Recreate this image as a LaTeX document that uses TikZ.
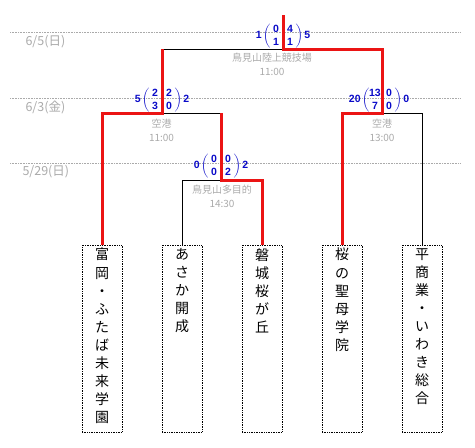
\documentclass[tikz,border=0pt]{standalone}
\usepackage{fontspec}
\setmainfont{Liberation Sans}
\newfontfamily\jpfont{Noto Sans CJK JP}
\usetikzlibrary{positioning}

\definecolor{winred}{RGB}{235,20,20}
\definecolor{scoreblue}{RGB}{10,10,200}
\definecolor{labelgray}{RGB}{170,170,170}

% score: outer left, top-left, bottom-left, top-right, bottom-right, outer right
\newcommand{\scoremat}[6]{\llap{#1\hspace{1.5pt}}$\left(\mbox{\renewcommand{\arraystretch}{1.05}%
  \begin{tabular}{@{}c@{\hspace{3pt}}c@{}}\makebox[11pt]{#2}&\makebox[11pt]{#4}\\
  \makebox[11pt]{#3}&\makebox[11pt]{#5}\end{tabular}}\right)$\rlap{\hspace{1.5pt}#6}}

\begin{document}
\begin{tikzpicture}[x=1pt, y=-1pt,
    win/.style={winred, line width=3pt},
    lose/.style={black, line width=0.8pt},
    dateline/.style={labelgray, densely dotted, line width=0.6pt},
    datelabel/.style={labelgray, anchor=west, font=\jpfont\fontsize{12.5}{14}\selectfont},
    venue/.style={labelgray, align=center, inner sep=0pt, font=\jpfont\fontsize{10}{14}\selectfont},
    score/.style={scoreblue, inner sep=0pt, font=\bfseries\fontsize{10.5}{12.5}\selectfont},
    teambox/.style={draw, densely dotted, line width=0.7pt, anchor=north, minimum width=40pt, minimum height=187pt, inner sep=0pt},
    teamname/.style={anchor=north, align=center, inner sep=0pt, font=\jpfont\fontsize{14}{18.1}\selectfont}]
  \useasboundingbox (0,0) rectangle (475,448);

  % round dates
  \draw[dateline] (10,32) -- (460,32);
  \draw[dateline] (10,98) -- (460,98);
  \draw[dateline] (10,163) -- (460,163);
  \node[datelabel] (d1) at (22,42) {6/5(日)};
  \node[datelabel] (d2) at (22,107) {6/3(金)};
  \node[datelabel] (d3) at (19,172) {5/29(日)};

  % match points
  \coordinate (champ) at (283,15);
  \coordinate (fin) at (283,49);
  \coordinate (sfL) at (162,113);
  \coordinate (sfR) at (382,113);
  \coordinate (qf) at (221,180);

  % teams
  \node[teambox] (t1) at (102,245) {};
  \node[teambox] (t2) at (182,245) {};
  \node[teambox] (t3) at (262,245) {};
  \node[teambox] (t4) at (342,245) {};
  \node[teambox] (t5) at (422,245) {};
  \node[teamname] (n1) at ([yshift=-3pt]t1.north) {富\\岡\\・\\ふ\\た\\ば\\未\\来\\学\\園};
  \node[teamname] (n2) at ([yshift=-3pt]t2.north) {あ\\さ\\か\\開\\成};
  \node[teamname] (n3) at ([yshift=-3pt]t3.north) {磐\\城\\桜\\が\\丘};
  \node[teamname] (n4) at ([yshift=-3pt]t4.north) {桜\\の\\聖\\母\\学\\院};
  \node[teamname] (n5) at ([yshift=-3pt]t5.north) {平\\商\\業\\・\\い\\わ\\き\\総\\合};

  % losing sides
  \draw[lose] (t2.north) |- (qf);
  \draw[lose] (sfL) -- (qf |- sfL);
  \draw[lose] (t5.north) |- (sfR);
  \draw[lose] (sfL |- fin) -- (fin);

  % winning paths
  \draw[win] (t3.north) |- (qf) -- (qf |- sfL);
  \draw[win] (t1.north) |- (sfL) -- (sfL |- fin);
  \draw[win] (t4.north) |- (sfR) |- (fin) -- (champ);

  % scores
  \node[score] (scF) at (283,36) {\scoremat{1}{0}{1}{4}{1}{5}};
  \node[score] (scL) at (162,100) {\scoremat{5}{2}{3}{2}{0}{2}};
  \node[score] (scR) at (382,100) {\scoremat{20}{13}{7}{0}{0}{0}};
  \node[score] (scQ) at (221,166) {\scoremat{0}{0}{0}{0}{2}{2}};

  % venues
  \node[venue] (vF) at (272,64.5) {鳥見山陸上競技場\\11:00};
  \node[venue] (vL) at (161.5,130) {空港\\11:00};
  \node[venue] (vR) at (382,130) {空港\\13:00};
  \node[venue] (vQ) at (222,196.5) {鳥見山多目的\\14:30};
\end{tikzpicture}
\end{document}
